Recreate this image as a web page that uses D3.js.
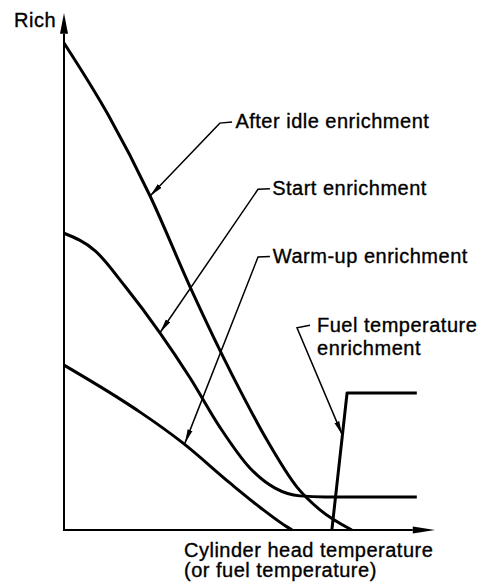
<!DOCTYPE html>
<html>
<head>
<meta charset="utf-8">
<script src="https://cdn.jsdelivr.net/npm/d3@7"></script>
<style>
  html, body { margin: 0; padding: 0; background: #fff; }
  svg { display: block; }
  text { font-family: "Liberation Sans", Arial, sans-serif; font-size: 20px; fill: #000;
         stroke: #000; stroke-width: 0.35px; letter-spacing: 0.5px; }
</style>
</head>
<body>
<svg id="chart" width="484" height="583"></svg>
<script>
// Mixture enrichment vs. cylinder head temperature (relative units, 0-100)
const afterIdleX = [0, 11.9, 23.2, 34.0, 42.9, 47.4, 54.7, 62.8, 69.0, 77.6];
const afterIdleY = [94.2, 80.3, 64.6, 47.0, 33.5, 27.1, 17.4, 8.3, 3.9, 0];

const startX = [0, 8.4, 16.4, 25.9, 34.0, 42.0, 50.1, 56.9, 63.6, 70.4, 95.1];
const startY = [57.4, 54.0, 47.2, 38.1, 29.4, 19.9, 12.0, 8.1, 6.6, 6.4, 6.4];

const warmUpX = [0, 14.3, 20.5, 32.1, 44.7, 52.8, 60.1, 61.5];
const warmUpY = [31.9, 25.7, 22.8, 16.8, 9.1, 4.4, 0.6, 0];

const fuelTempX = [72.2, 76.3, 95.1];
const fuelTempY = [0, 26.5, 26.5];

const seriesNames = ["After idle enrichment", "Start enrichment", "Warm-up enrichment", ["Fuel temperature", "enrichment"]];
const yAxisLabel = "Rich";
const xAxisLabel = ["Cylinder head temperature", "(or fuel temperature)"];

const svg = d3.select("#chart");
const x = d3.scaleLinear().domain([0, 100]).range([64, 435]);
const y = d3.scaleLinear().domain([0, 100]).range([530, 13]);

const zip = (xs, ys) => xs.map((v, i) => [v, ys[i]]);
const smooth = d3.line().x(d => x(d[0])).y(d => y(d[1])).curve(d3.curveMonotoneX);
const straight = d3.line().x(d => x(d[0])).y(d => y(d[1]));

// Axes with arrowheads
const g = svg.append("g");
g.append("line").attr("x1", x(0)).attr("x2", x(0)).attr("y1", y(0) + 1).attr("y2", y(96))
  .attr("stroke", "#000").attr("stroke-width", 2);
g.append("path").attr("d", `M${x(0)},${y(100)} L${x(0) - 4},${y(96)} L${x(0) + 4},${y(96)} Z`).attr("fill", "#000");
g.append("line").attr("x1", x(0) - 1).attr("x2", x(94)).attr("y1", y(0)).attr("y2", y(0))
  .attr("stroke", "#000").attr("stroke-width", 2);
g.append("path").attr("d", `M${x(100)},${y(0)} L${x(94)},${y(0) - 3.5} L${x(94)},${y(0) + 3.5} Z`).attr("fill", "#000");

// Curves
const curves = svg.append("g").attr("fill", "none").attr("stroke", "#000")
  .attr("stroke-width", 3).attr("stroke-linejoin", "round").attr("stroke-linecap", "butt");
curves.append("path").attr("d", smooth(zip(afterIdleX, afterIdleY)));
curves.append("path").attr("d", smooth(zip(startX, startY)));
curves.append("path").attr("d", smooth(zip(warmUpX, warmUpY)));
curves.append("path").attr("d", straight(zip(fuelTempX, fuelTempY)));

// Callouts: tip on the curve, elbow near the label, label start
const callouts = [
  { tip: [23.2, 64.6], elbow: [42.0, 78.7], dashEnd: [45.3, 78.9], text: [46.2, 77.8], lines: [seriesNames[0]] },
  { tip: [25.9, 38.2], elbow: [52.3, 65.9], dashEnd: [55.5, 66.0], text: [56.1, 64.8], lines: [seriesNames[1]] },
  { tip: [32.6, 16.8], elbow: [52.3, 52.8], dashEnd: [55.5, 52.9], text: [56.3, 51.6], lines: [seriesNames[2]] },
  { tip: [75.0, 18.4], elbow: [62.8, 39.1], dashEnd: [66.3, 39.6], text: [68.2, 38.3], lines: seriesNames[3] }
];

svg.append("defs").append("marker")
  .attr("id", "head").attr("viewBox", "0 0 14 6").attr("refX", 14).attr("refY", 3)
  .attr("markerWidth", 14).attr("markerHeight", 6).attr("markerUnits", "userSpaceOnUse")
  .attr("orient", "auto")
  .append("path").attr("d", "M0,0.4 L14,3 L0,5.6 Z").attr("fill", "#000");

const co = svg.append("g");
callouts.forEach(c => {
  co.append("path")
    .attr("d", `M${x(c.dashEnd[0])},${y(c.dashEnd[1])} L${x(c.elbow[0])},${y(c.elbow[1])} L${x(c.tip[0])},${y(c.tip[1])}`)
    .attr("fill", "none").attr("stroke", "#000").attr("stroke-width", 1.5)
    .attr("marker-end", "url(#head)");
  const t = co.append("text").attr("x", x(c.text[0])).attr("y", y(c.text[1]));
  c.lines.forEach((s, i) => {
    t.append("tspan").attr("x", x(c.text[0])).attr("dy", i === 0 ? 0 : 23).text(s);
  });
});

// Axis titles
svg.append("text").attr("x", 14).attr("y", 27).text(yAxisLabel);
const xt = svg.append("text").attr("x", 184).attr("y", 557);
xAxisLabel.forEach((s, i) => {
  xt.append("tspan").attr("x", 184).attr("dy", i === 0 ? 0 : 20).text(s);
});
</script>
</body>
</html>
